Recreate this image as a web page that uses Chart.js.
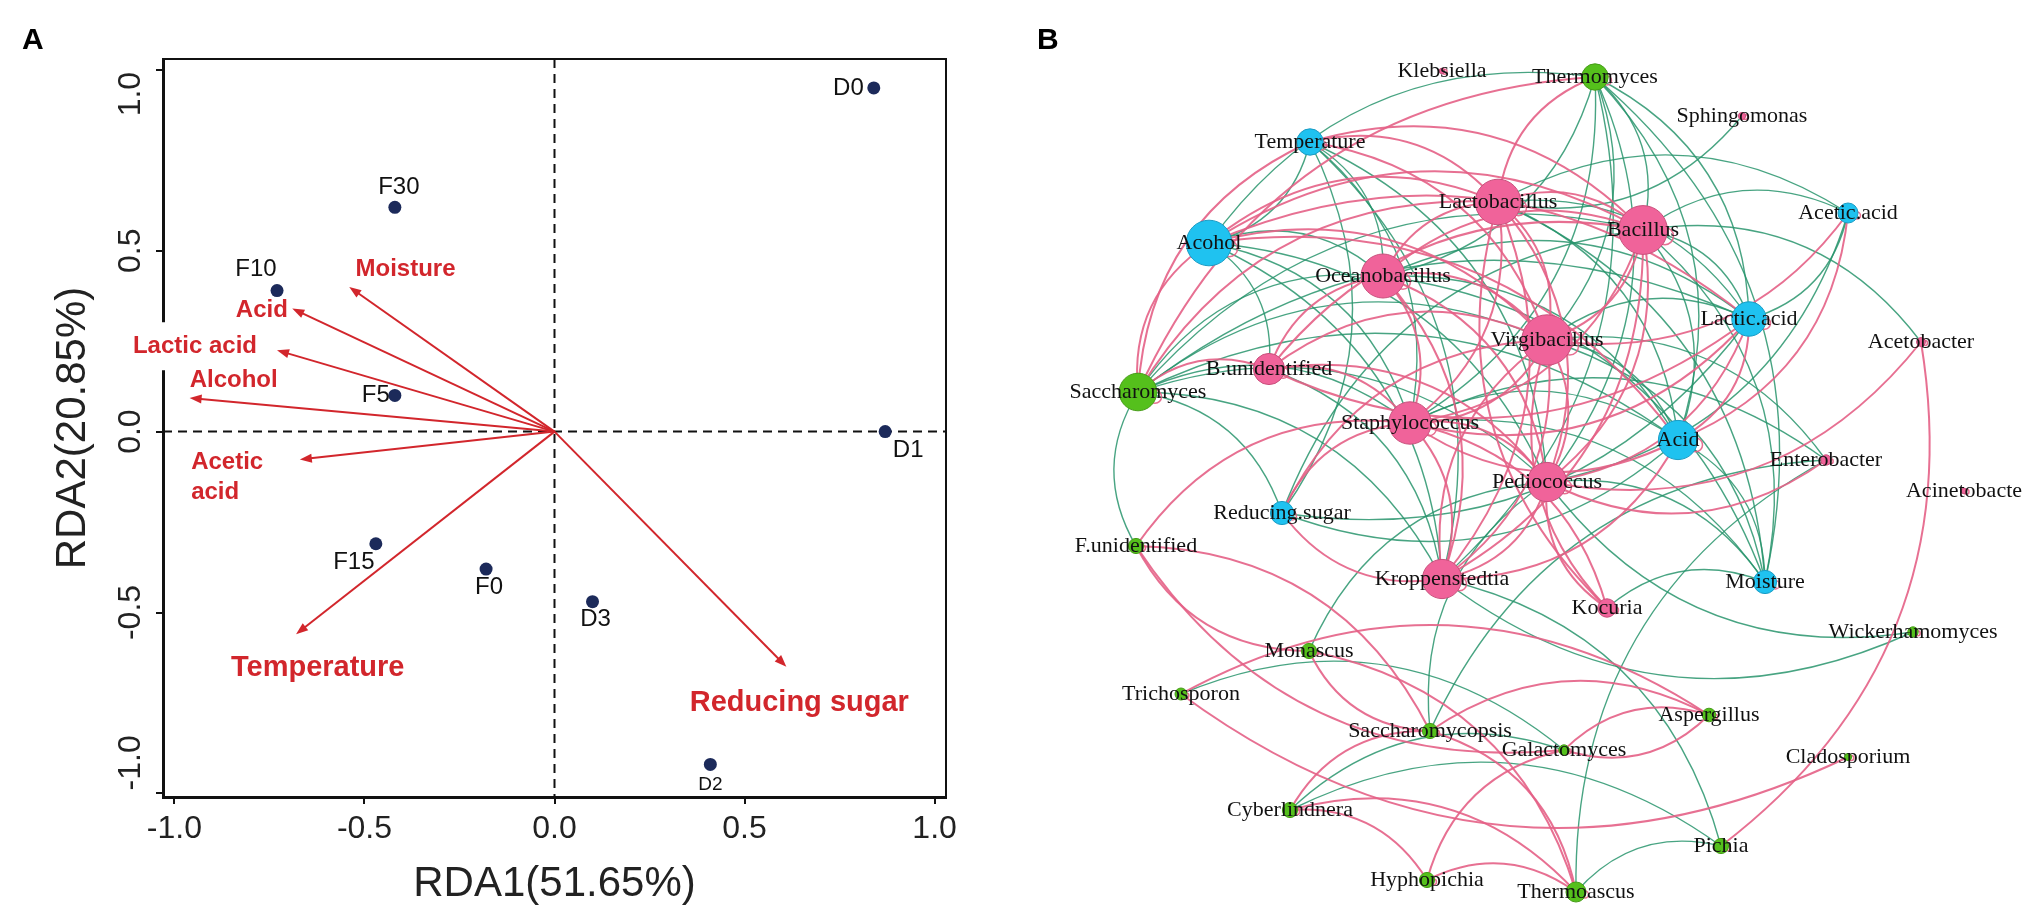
<!DOCTYPE html>
<html>
<head>
<meta charset="utf-8">
<script src="https://cdn.jsdelivr.net/npm/chart.js@4.4.1/dist/chart.umd.min.js"></script>
<style>
	html, body { margin: 0; padding: 0; background: #fff; }
	body { width: 2033px; height: 921px; position: relative; overflow: hidden; }
	#rda { position: absolute; left: 0; top: 0; }
	#net { position: absolute; left: 1000px; top: 0; }
	.tag { position: absolute; font: bold 30px 'Liberation Sans', Arial, sans-serif; color: #000; }
</style>
</head>
<body>
<canvas id="rda" width="1000" height="921"></canvas>
<canvas id="net" width="1033" height="921"></canvas>
<div class="tag" style="left:22px;top:22px">A</div>
<div class="tag" style="left:1037px;top:22px">B</div>
<script>
"use strict";

// ---- panel A : RDA biplot ----
const sampleNames = ["D0", "D1", "D2", "D3", "F0", "F5", "F10", "F15", "F30"];
const sampleRDA1 = [0.84, 0.87, 0.41, 0.10, -0.18, -0.42, -0.73, -0.47, -0.42];
const sampleRDA2 = [0.95, 0.00, -0.92, -0.47, -0.38, 0.10, 0.39, -0.31, 0.62];

const factorNames = ["Moisture", "Acid", "Lactic acid", "Alcohol", "Acetic acid", "Temperature", "Reducing sugar"];
const factorRDA1 = [-0.54, -0.69, -0.73, -0.96, -0.67, -0.68, 0.61];
const factorRDA2 = [0.40, 0.34, 0.225, 0.093, -0.077, -0.56, -0.65];

const axisTicks = [-1.0, -0.5, 0.0, 0.5, 1.0];

// ---- panel B : co-occurrence network ----
const nodeNames = ["Klebsiella", "Thermomyces", "Sphingomonas", "Temperature", "Lactobacillus", "Acetic.acid",
	"Acohol", "Bacillus", "Oceanobacillus", "Lactic.acid", "Virgibacillus", "Acetobacter", "B.unidentified",
	"Saccharomyces", "Staphylococcus", "Acid", "Enterobacter", "Pediococcus", "Acinetobacte", "Reducing.sugar",
	"F.unidentified", "Kroppenstedtia", "Moisture", "Kocuria", "Wickerhamomyces", "Monascus", "Trichosporon",
	"Aspergillus", "Saccharomycopsis", "Galactomyces", "Cladosporium", "Cyberlindnera", "Pichia", "Hyphopichia",
	"Thermoascus"];
const nodeGroup = ["B", "F", "B", "E", "B", "E", "E", "B", "B", "E", "B", "B", "B", "F", "B", "E", "B", "B", "B", "E",
	"F", "B", "E", "B", "F", "F", "F", "F", "F", "F", "F", "F", "F", "F", "F"];
const nodeDegree = [1, 14, 2, 14, 26, 10, 26, 28, 25, 19, 29, 3, 17, 21, 24, 22, 4, 22, 1, 12,
	7, 22, 12, 9, 4, 7, 5, 6, 7, 4, 2, 7, 7, 7, 10];
// layout coordinates of the drawing
const nodeX = [44.2, 59.5, 74.2, 31.0, 49.8, 84.8, 20.9, 64.3, 38.3, 74.9, 54.7, 92.1, 26.9, 13.8, 41.0, 67.8, 82.6,
	54.7, 96.4, 28.2, 13.6, 44.2, 76.5, 60.7, 91.3, 30.9, 18.1, 70.9, 43.0, 56.4, 84.8, 29.0, 72.1, 42.7, 57.6];
const nodeY = [85.0, 84.4, 80.5, 77.9, 71.9, 70.8, 67.8, 69.1, 64.5, 60.2, 58.1, 57.9, 55.2, 52.9, 49.8, 48.1, 46.1,
	43.9, 43.0, 40.8, 37.5, 34.2, 33.9, 31.3, 28.9, 27.0, 22.7, 20.6, 19.0, 17.1, 16.4, 11.1, 7.5, 4.1, 2.9];

const positiveLinks = [
	["Saccharomyces", "Temperature"], ["Saccharomyces", "Thermomyces"], ["Saccharomyces", "Acohol"],
	["Saccharomyces", "Lactobacillus"], ["Saccharomyces", "B.unidentified"],
	["Acohol", "Lactobacillus"], ["Acohol", "Bacillus"], ["Acohol", "Lactic.acid"], ["Acohol", "Virgibacillus"], ["Acohol", "Acid"],
	["Temperature", "Lactobacillus"], ["Temperature", "Bacillus"], ["Temperature", "Virgibacillus"],
	["Lactobacillus", "Thermomyces"], ["Lactobacillus", "Bacillus"], ["Oceanobacillus", "Lactobacillus"],
	["Lactobacillus", "Virgibacillus"], ["Lactobacillus", "Staphylococcus"], ["Lactobacillus", "Pediococcus"],
	["Lactobacillus", "Kroppenstedtia"], ["Oceanobacillus", "Bacillus"], ["Bacillus", "Virgibacillus"],
	["Bacillus", "Staphylococcus"], ["Bacillus", "Pediococcus"], ["Bacillus", "Kroppenstedtia"], ["B.unidentified", "Bacillus"],
	["Oceanobacillus", "Virgibacillus"], ["Oceanobacillus", "Staphylococcus"], ["Oceanobacillus", "Pediococcus"],
	["Oceanobacillus", "Kroppenstedtia"], ["B.unidentified", "Oceanobacillus"], ["Virgibacillus", "Staphylococcus"],
	["Virgibacillus", "Pediococcus"], ["Virgibacillus", "Kroppenstedtia"], ["Kroppenstedtia", "Virgibacillus"],
	["B.unidentified", "Virgibacillus"], ["Staphylococcus", "Pediococcus"], ["Staphylococcus", "Kroppenstedtia"],
	["B.unidentified", "Staphylococcus"], ["Pediococcus", "Kroppenstedtia"], ["B.unidentified", "Pediococcus"],
	["Kocuria", "Pediococcus"], ["Kocuria", "Virgibacillus"], ["Staphylococcus", "Kocuria"], ["Kocuria", "Lactobacillus"],
	["Acetic.acid", "Acid"], ["Acetic.acid", "Virgibacillus"], ["Acetobacter", "Pichia"], ["Acetobacter", "Pediococcus"],
	["Enterobacter", "Pediococcus"], ["Lactic.acid", "Acid"], ["Lactic.acid", "Pediococcus"], ["Lactic.acid", "Staphylococcus"],
	["Lactic.acid", "B.unidentified"], ["Acid", "Staphylococcus"], ["Acid", "Kroppenstedtia"],
	["Reducing.sugar", "Virgibacillus"], ["Reducing.sugar", "Staphylococcus"], ["Kroppenstedtia", "Reducing.sugar"],
	["F.unidentified", "Staphylococcus"], ["F.unidentified", "Saccharomycopsis"], ["Monascus", "F.unidentified"],
	["Galactomyces", "F.unidentified"], ["Trichosporon", "Aspergillus"], ["Saccharomycopsis", "Monascus"],
	["Monascus", "Thermoascus"], ["Cladosporium", "Trichosporon"], ["Cyberlindnera", "Saccharomycopsis"],
	["Saccharomycopsis", "Thermoascus"], ["Saccharomycopsis", "Aspergillus"], ["Hyphopichia", "Thermoascus"],
	["Hyphopichia", "Galactomyces"], ["Cyberlindnera", "Hyphopichia"], ["Cyberlindnera", "Thermoascus"],
	["Galactomyces", "Aspergillus"], ["Aspergillus", "Galactomyces"]
];

const negativeLinks = [
	["Saccharomyces", "Oceanobacillus"], ["Saccharomyces", "Bacillus"], ["Saccharomyces", "Virgibacillus"],
	["Saccharomyces", "Staphylococcus"], ["Saccharomyces", "Pediococcus"], ["Saccharomyces", "Kroppenstedtia"],
	["Saccharomyces", "Acid"], ["Saccharomyces", "Lactic.acid"], ["Saccharomyces", "Reducing.sugar"],
	["F.unidentified", "Saccharomyces"], ["Acohol", "Thermomyces"], ["Thermomyces", "Bacillus"],
	["Thermomyces", "Virgibacillus"], ["Thermomyces", "Staphylococcus"], ["Thermomyces", "Pediococcus"],
	["Thermomyces", "Kroppenstedtia"], ["Thermomyces", "Acid"], ["Thermomyces", "Oceanobacillus"],
	["Thermomyces", "Moisture"], ["Thermomyces", "Lactic.acid"], ["Temperature", "Oceanobacillus"],
	["Temperature", "Staphylococcus"], ["Temperature", "Reducing.sugar"], ["Temperature", "Pediococcus"],
	["Temperature", "Kroppenstedtia"], ["Temperature", "Acohol"], ["Acohol", "B.unidentified"],
	["Acohol", "Staphylococcus"], ["Acohol", "Kroppenstedtia"], ["Acohol", "Pediococcus"], ["Acohol", "Oceanobacillus"],
	["Sphingomonas", "Lactobacillus"], ["Bacillus", "Acetic.acid"], ["Lactobacillus", "Acetic.acid"],
	["Bacillus", "Acetobacter"], ["Acetic.acid", "Lactic.acid"], ["Acetic.acid", "Pediococcus"],
	["Bacillus", "Lactic.acid"], ["Bacillus", "Acid"], ["Bacillus", "Moisture"], ["Reducing.sugar", "Bacillus"],
	["Lactobacillus", "Acid"], ["Lactobacillus", "Moisture"], ["Lactobacillus", "Lactic.acid"],
	["Virgibacillus", "Acid"], ["Virgibacillus", "Moisture"], ["Virgibacillus", "Lactic.acid"],
	["Oceanobacillus", "Acid"], ["Oceanobacillus", "Lactic.acid"], ["Oceanobacillus", "Moisture"],
	["Staphylococcus", "Acid"], ["Staphylococcus", "Moisture"], ["Pediococcus", "Moisture"],
	["Wickerhamomyces", "Pediococcus"], ["Wickerhamomyces", "Kroppenstedtia"], ["Monascus", "Pediococcus"],
	["Kocuria", "Moisture"], ["Saccharomycopsis", "Enterobacter"], ["Thermoascus", "Enterobacter"],
	["Virgibacillus", "Enterobacter"], ["Staphylococcus", "Enterobacter"], ["Thermoascus", "Pichia"],
	["Kroppenstedtia", "Pichia"], ["Cyberlindnera", "Pichia"], ["Trichosporon", "Galactomyces"],
	["Acid", "Reducing.sugar"], ["Lactic.acid", "Reducing.sugar"], ["Saccharomycopsis", "Pediococcus"],
	["Acid", "Moisture"], ["Cyberlindnera", "Galactomyces"], ["B.unidentified", "Kroppenstedtia"]
];

// ---- styles ----
const SANS = "'Liberation Sans', Arial, sans-serif";
const SERIF = "'Liberation Serif', 'Times New Roman', serif";
const RED = "#d2262c";
const NAVY = "#1c2a5a";

// where each sample label sits relative to its point (px) and how it is aligned
const sampleLabelStyle = {
	D0: { dx: -10, dy: 0, align: "right", size: 24 },
	D1: { dx: 23, dy: 19, align: "center", size: 24 },
	D2: { dx: 0, dy: 20, align: "center", size: 19 },
	D3: { dx: 3, dy: 18, align: "center", size: 24 },
	F0: { dx: 3, dy: 18, align: "center", size: 24 },
	F5: { dx: -5, dy: 0, align: "right", size: 24 },
	F10: { dx: -21, dy: -21, align: "center", size: 24 },
	F15: { dx: -22, dy: 19, align: "center", size: 24 },
	F30: { dx: 4, dy: -20, align: "center", size: 24 }
};
// factor labels anchored in axis units
const factorLabelStyle = {
	"Moisture": { at: [-0.392, 0.448], size: 24, align: "center" },
	"Acid": { at: [-0.770, 0.335], size: 24, align: "center" },
	"Lactic acid": { at: [-0.946, 0.236], size: 24, align: "center", knockout: true },
	"Alcohol": { at: [-0.844, 0.143], size: 24, align: "center" },
	"Acetic acid": { at: [-0.956, -0.085], size: 24, align: "left", lines: ["Acetic", "acid"] },
	"Temperature": { at: [-0.623, -0.654], size: 29, align: "center" },
	"Reducing sugar": { at: [0.644, -0.750], size: 29, align: "center" }
};

function drawArrow(ctx, x0, y0, x1, y1) {
	const ang = Math.atan2(y1 - y0, x1 - x0);
	const head = 12, wing = 4.5;
	ctx.beginPath();
	ctx.moveTo(x0, y0);
	ctx.lineTo(x1 - Math.cos(ang) * head * 0.7, y1 - Math.sin(ang) * head * 0.7);
	ctx.stroke();
	ctx.beginPath();
	ctx.moveTo(x1, y1);
	ctx.lineTo(x1 - head * Math.cos(ang) + wing * Math.sin(ang), y1 - head * Math.sin(ang) - wing * Math.cos(ang));
	ctx.lineTo(x1 - head * Math.cos(ang) - wing * Math.sin(ang), y1 - head * Math.sin(ang) + wing * Math.cos(ang));
	ctx.closePath();
	ctx.fill();
}

const rdaDecor = {
	id: "rdaDecor",
	beforeDatasetsDraw(chart) {
		const { ctx, chartArea: a, scales: { x, y } } = chart;
		const x0 = x.getPixelForValue(0), y0 = y.getPixelForValue(0);
		ctx.save();

		// frame top / right
		ctx.strokeStyle = "#111";
		ctx.lineWidth = 2;
		ctx.beginPath();
		ctx.moveTo(a.left, a.top);
		ctx.lineTo(a.right, a.top);
		ctx.lineTo(a.right, a.bottom);
		ctx.stroke();

		// zero lines
		ctx.setLineDash([9, 6]);
		ctx.beginPath();
		ctx.moveTo(x0, a.top);
		ctx.lineTo(x0, a.bottom);
		ctx.moveTo(a.left, y0);
		ctx.lineTo(a.right, y0);
		ctx.stroke();
		ctx.setLineDash([]);

		// environmental arrows
		ctx.strokeStyle = RED;
		ctx.fillStyle = RED;
		ctx.lineWidth = 2;
		factorNames.forEach((name, i) => {
			drawArrow(ctx, x0, y0, x.getPixelForValue(factorRDA1[i]), y.getPixelForValue(factorRDA2[i]));
		});

		// arrow labels
		ctx.textBaseline = "middle";
		factorNames.forEach(name => {
			const st = factorLabelStyle[name];
			const px = x.getPixelForValue(st.at[0]);
			const py = y.getPixelForValue(st.at[1]);
			ctx.font = `bold ${st.size}px ${SANS}`;
			const lines = st.lines || [name];
			if (st.knockout) {
				const w = ctx.measureText(name).width;
				ctx.fillStyle = "#fff";
				ctx.fillRect(px - w / 2 - 4, py - 24, w + 8, 48);
			}
			ctx.fillStyle = RED;
			ctx.textAlign = st.align;
			lines.forEach((line, k) => ctx.fillText(line, px, py + k * 30));
		});
		ctx.restore();
	},
	afterDatasetsDraw(chart) {
		const { ctx, scales: { x, y } } = chart;
		ctx.save();
		ctx.fillStyle = "#111";
		ctx.textBaseline = "middle";
		sampleNames.forEach((name, i) => {
			const st = sampleLabelStyle[name];
			ctx.font = `${st.size}px ${SANS}`;
			ctx.textAlign = st.align;
			ctx.fillText(name, x.getPixelForValue(sampleRDA1[i]) + st.dx, y.getPixelForValue(sampleRDA2[i]) + st.dy);
		});
		ctx.restore();
	},
	afterDraw(chart) {
		// rotated y tick labels, ends pulled inside like the original
		const { ctx, scales: { y } } = chart;
		const last = y.ticks.length - 1;
		ctx.save();
		ctx.fillStyle = "#222";
		ctx.font = `32px ${SANS}`;
		ctx.textBaseline = "middle";
		y.ticks.forEach((t, i) => {
			const py = y.getPixelForValue(t.value);
			ctx.save();
			ctx.translate(131, i === 0 ? py - 3 : i === last ? py + 2 : py);
			ctx.rotate(-Math.PI / 2);
			ctx.textAlign = i === 0 ? "left" : i === last ? "right" : "center";
			ctx.fillText(t.value.toFixed(1), 0, 0);
			ctx.restore();
		});
		ctx.restore();
	}
};

new Chart(document.getElementById("rda"), {
	type: "scatter",
	data: {
		datasets: [{
			data: sampleNames.map((n, i) => ({ x: sampleRDA1[i], y: sampleRDA2[i] })),
			pointRadius: 6.5,
			pointHoverRadius: 6.5,
			backgroundColor: NAVY,
			borderColor: NAVY,
			borderWidth: 0
		}]
	},
	options: {
		responsive: false,
		animation: false,
		devicePixelRatio: 1,
		layout: { autoPadding: false, padding: { left: 0, top: 59, right: 54, bottom: 0 } },
		plugins: { legend: { display: false }, tooltip: { enabled: false } },
		scales: {
			x: {
				type: "linear",
				min: -1.03,
				max: 1.03,
				afterBuildTicks: s => { s.ticks = axisTicks.map(v => ({ value: v })); },
				afterFit: s => { s.height = 124; },
				ticks: { font: { size: 32, family: SANS }, color: "#222", padding: 6, maxRotation: 0, callback: v => Number(v).toFixed(1) },
				grid: { drawOnChartArea: false, drawTicks: true, tickLength: 7, color: "#111", lineWidth: 2 },
				border: { display: true, color: "#111", width: 3 },
				title: { display: true, text: "RDA1(51.65%)", font: { size: 42, family: SANS }, color: "#222", padding: { top: 0, bottom: 11 } }
			},
			y: {
				type: "linear",
				min: -1.01,
				max: 1.03,
				afterBuildTicks: s => { s.ticks = axisTicks.map(v => ({ value: v })); },
				afterFit: s => { s.width = 163; },
				ticks: { display: false },
				grid: { drawOnChartArea: false, drawTicks: true, tickLength: 7, color: "#111", lineWidth: 2 },
				border: { display: true, color: "#111", width: 3 },
				title: { display: true, text: "RDA2(20.85%)", font: { size: 42, family: SANS }, color: "#222", padding: { top: 48, bottom: 0 } }
			}
		}
	},
	plugins: [rdaDecor]
});

// ---- network ----
const groupFill = { B: "#f0639a", E: "#1fc2f0", F: "#55c01c" };
const groupEdge = { B: "#c9507c", E: "#1a9cc4", F: "#469c18" };
const nodeRadius = d => 2 + 0.8 * d;
const LINK_BEND = 0.3;

function nodePixel(chart, name) {
	const i = nodeNames.indexOf(name);
	const { x, y } = chart.scales;
	return { x: x.getPixelForValue(nodeX[i]), y: y.getPixelForValue(nodeY[i]) };
}

function drawLink(ctx, p, q) {
	const dx = q.x - p.x, dy = q.y - p.y;
	const cx = (p.x + q.x) / 2 + dy * LINK_BEND;
	const cy = (p.y + q.y) / 2 - dx * LINK_BEND;
	ctx.beginPath();
	ctx.moveTo(p.x, p.y);
	ctx.quadraticCurveTo(cx, cy, q.x, q.y);
	ctx.stroke();
}

const netDecor = {
	id: "netDecor",
	beforeDatasetsDraw(chart) {
		const { ctx } = chart;
		ctx.save();
		ctx.lineCap = "round";
		ctx.strokeStyle = "rgba(40, 148, 108, 0.85)";
		ctx.lineWidth = 1.4;
		negativeLinks.forEach(([a, b]) => drawLink(ctx, nodePixel(chart, a), nodePixel(chart, b)));
		ctx.strokeStyle = "rgba(228, 96, 134, 0.9)";
		ctx.lineWidth = 2;
		positiveLinks.forEach(([a, b]) => drawLink(ctx, nodePixel(chart, a), nodePixel(chart, b)));

		// self loops
		ctx.lineWidth = 1.5;
		nodeNames.forEach((name, i) => {
			const p = nodePixel(chart, name);
			const r = nodeRadius(nodeDegree[i]);
			ctx.beginPath();
			ctx.arc(p.x + r * 0.9, p.y + r * 0.25, Math.max(2.5, r * 0.35), 0, Math.PI * 2);
			ctx.stroke();
		});
		ctx.restore();
	},
	afterDatasetsDraw(chart) {
		const { ctx } = chart;
		ctx.save();
		ctx.fillStyle = "#111";
		ctx.font = `22px ${SERIF}`;
		ctx.textAlign = "center";
		ctx.textBaseline = "middle";
		nodeNames.forEach(name => {
			const p = nodePixel(chart, name);
			ctx.fillText(name, p.x, p.y);
		});
		ctx.restore();
	}
};

new Chart(document.getElementById("net"), {
	type: "scatter",
	data: {
		datasets: [{
			data: nodeNames.map((n, i) => ({ x: nodeX[i], y: nodeY[i] })),
			pointRadius: c => nodeRadius(nodeDegree[c.dataIndex]),
			pointHoverRadius: c => nodeRadius(nodeDegree[c.dataIndex]),
			backgroundColor: c => groupFill[nodeGroup[c.dataIndex]],
			borderColor: c => groupEdge[nodeGroup[c.dataIndex]],
			borderWidth: 1
		}]
	},
	options: {
		responsive: false,
		animation: false,
		devicePixelRatio: 1,
		layout: { autoPadding: false, padding: 0 },
		plugins: { legend: { display: false }, tooltip: { enabled: false } },
		scales: {
			x: { type: "linear", display: false, min: 0, max: 103.3 },
			y: { type: "linear", display: false, min: 0, max: 92.1 }
		}
	},
	plugins: [netDecor]
});
</script>
</body>
</html>
